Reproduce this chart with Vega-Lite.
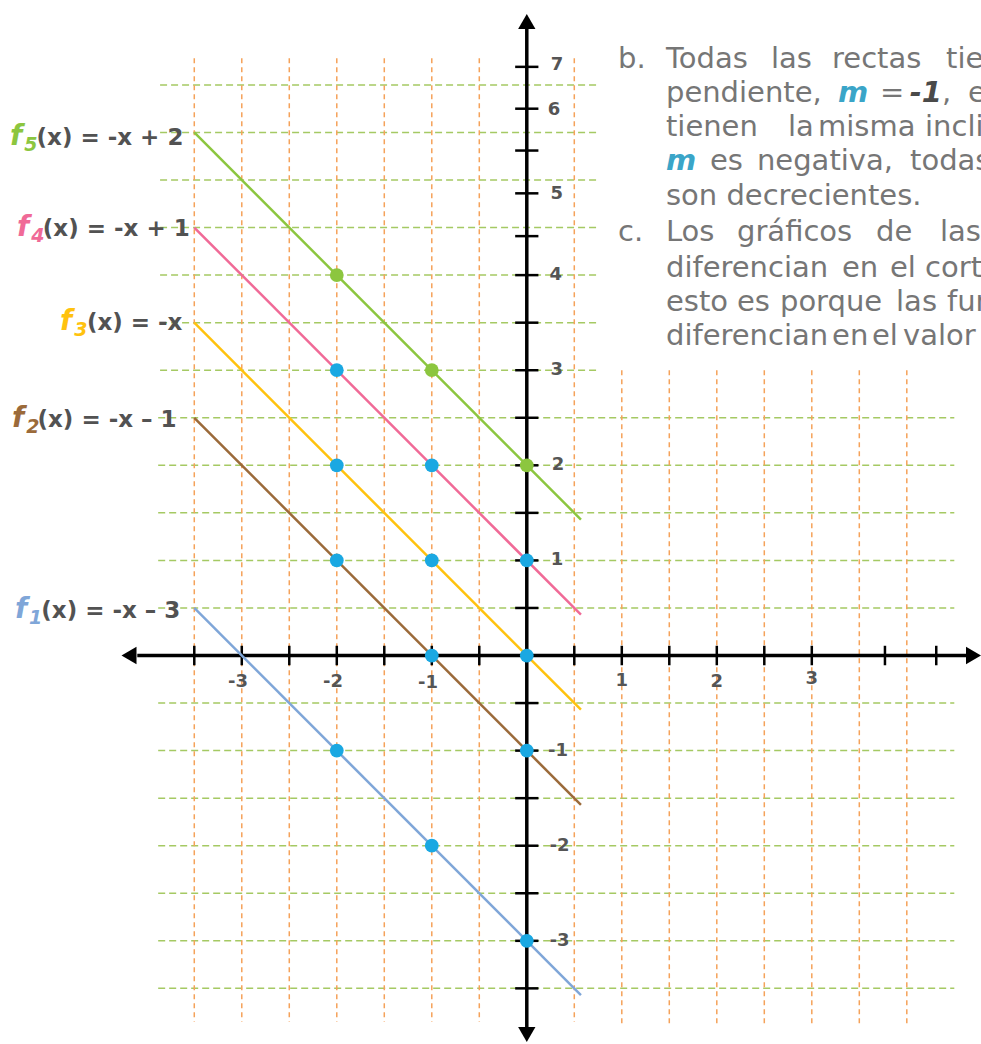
{
  "$schema": "https://vega.github.io/schema/vega-lite/v6.json",
  "width": 981,
  "height": 1044,
  "autosize": {"type": "none"},
  "padding": 0,
  "background": "white",
  "config": {"view": {"stroke": null}},
  "datasets": {
    "hg": [
      {"y": 6, "x": -3.86, "x2": 0.75}, {"y": 5.5, "x": -3.86, "x2": 0.75}, {"y": 5, "x": -3.86, "x2": 0.75},
      {"y": 4.5, "x": -3.86, "x2": 0.75}, {"y": 4, "x": -3.86, "x2": 0.75}, {"y": 3.5, "x": -3.86, "x2": 0.75},
      {"y": 3, "x": -3.86, "x2": 0.75},
      {"y": 2.5, "x": -3.88, "x2": 4.5}, {"y": 2, "x": -3.88, "x2": 4.5}, {"y": 1.5, "x": -3.88, "x2": 4.5},
      {"y": 1, "x": -3.88, "x2": 4.5}, {"y": 0.5, "x": -3.88, "x2": 4.5}, {"y": 0, "x": -3.88, "x2": 4.5},
      {"y": -0.5, "x": -3.88, "x2": 4.5}, {"y": -1, "x": -3.88, "x2": 4.5}, {"y": -1.5, "x": -3.88, "x2": 4.5},
      {"y": -2, "x": -3.88, "x2": 4.5}, {"y": -2.5, "x": -3.88, "x2": 4.5}, {"y": -3, "x": -3.88, "x2": 4.5},
      {"y": -3.5, "x": -3.88, "x2": 4.5}
    ],
    "vg": [
      {"x": -3.5, "y": 6.28, "y2": -3.85}, {"x": -3, "y": 6.28, "y2": -3.85}, {"x": -2.5, "y": 6.28, "y2": -3.85},
      {"x": -2, "y": 6.28, "y2": -3.85}, {"x": -1.5, "y": 6.28, "y2": -3.85}, {"x": -1, "y": 6.28, "y2": -3.85},
      {"x": -0.5, "y": 6.28, "y2": -3.85}, {"x": 0.5, "y": 6.28, "y2": -3.85},
      {"x": 1, "y": 3.0, "y2": -3.87}, {"x": 1.5, "y": 3.0, "y2": -3.87}, {"x": 2, "y": 3.0, "y2": -3.87},
      {"x": 2.5, "y": 3.0, "y2": -3.87}, {"x": 3, "y": 3.0, "y2": -3.87}, {"x": 3.5, "y": 3.0, "y2": -3.87},
      {"x": 4, "y": 3.0, "y2": -3.87}
    ],
    "ejes": [
      {"x": -4.1, "x2": 4.7, "y": 0, "y2": 0},
      {"x": 0, "x2": 0, "y": 6.6, "y2": -3.95}
    ],
    "flechas": [
      {"x": -4.187, "y": 0, "dir": "izquierda"},
      {"x": 4.702, "y": 0, "dir": "derecha"},
      {"x": 0, "y": 6.667, "dir": "arriba"},
      {"x": 0, "y": -3.985, "dir": "abajo"}
    ],
    "tx": [
      {"x": -3.5, "y": 0}, {"x": -3, "y": 0}, {"x": -2.5, "y": 0}, {"x": -2, "y": 0}, {"x": -1.5, "y": 0},
      {"x": -1, "y": 0}, {"x": -0.5, "y": 0}, {"x": 0.5, "y": 0}, {"x": 1, "y": 0}, {"x": 1.5, "y": 0},
      {"x": 2, "y": 0}, {"x": 2.5, "y": 0}, {"x": 3, "y": 0}, {"x": 3.77, "y": 0}, {"x": 4.31, "y": 0}
    ],
    "ty": [
      {"x": 0, "y": 6.19}, {"x": 0, "y": 5.75}, {"x": 0, "y": 5.31}, {"x": 0, "y": 4.86}, {"x": 0, "y": 4.41},
      {"x": 0, "y": 4.0}, {"x": 0, "y": 3.5}, {"x": 0, "y": 3}, {"x": 0, "y": 2.5}, {"x": 0, "y": 2},
      {"x": 0, "y": 1.5}, {"x": 0, "y": 1}, {"x": 0, "y": 0.5}, {"x": 0, "y": -0.5}, {"x": 0, "y": -1},
      {"x": 0, "y": -1.5}, {"x": 0, "y": -2}, {"x": 0, "y": -2.5}, {"x": 0, "y": -3}, {"x": 0, "y": -3.5}
    ],
    "rectas": [
      {"fn": "f5", "x": -3.5, "y": 5.5}, {"fn": "f5", "x": 0.57, "y": 1.43},
      {"fn": "f4", "x": -3.5, "y": 4.5}, {"fn": "f4", "x": 0.57, "y": 0.43},
      {"fn": "f3", "x": -3.5, "y": 3.5}, {"fn": "f3", "x": 0.57, "y": -0.57},
      {"fn": "f2", "x": -3.5, "y": 2.5}, {"fn": "f2", "x": 0.57, "y": -1.57},
      {"fn": "f1", "x": -3.5, "y": 0.5}, {"fn": "f1", "x": 0.57, "y": -3.57}
    ],
    "puntos": [
      {"fn": "f5", "x": -2, "y": 4}, {"fn": "f5", "x": -1, "y": 3}, {"fn": "f5", "x": 0, "y": 2},
      {"fn": "f4", "x": -2, "y": 3}, {"fn": "f4", "x": -1, "y": 2}, {"fn": "f4", "x": 0, "y": 1},
      {"fn": "f3", "x": -2, "y": 2}, {"fn": "f3", "x": -1, "y": 1}, {"fn": "f3", "x": 0, "y": 0},
      {"fn": "f2", "x": -2, "y": 1}, {"fn": "f2", "x": -1, "y": 0}, {"fn": "f2", "x": 0, "y": -1},
      {"fn": "f1", "x": -2, "y": -1}, {"fn": "f1", "x": -1, "y": -2}, {"fn": "f1", "x": 0, "y": -3}
    ],
    "etx": [
      {"t": "-3", "x": -3.04, "y": -0.279}, {"t": "-2", "x": -2.04, "y": -0.279}, {"t": "-1", "x": -1.04, "y": -0.285},
      {"t": "1", "x": 1.0, "y": -0.273}, {"t": "2", "x": 2.0, "y": -0.278}, {"t": "3", "x": 3.0, "y": -0.252}
    ],
    "ety": [
      {"t": "7", "x": 0.318, "y": 6.209}, {"t": "6", "x": 0.286, "y": 5.741}, {"t": "5", "x": 0.315, "y": 4.85},
      {"t": "4", "x": 0.305, "y": 4.0}, {"t": "3", "x": 0.316, "y": 3}, {"t": "2", "x": 0.328, "y": 2},
      {"t": "1", "x": 0.318, "y": 1}, {"t": "-1", "x": 0.328, "y": -1}, {"t": "-2", "x": 0.344, "y": -2},
      {"t": "-3", "x": 0.344, "y": -3}
    ],
    "nombres": [
      {"fn": "f5", "parte": "f", "t": "f", "x": -5.44, "y": 5.368},
      {"fn": "f5", "parte": "sub", "t": "5", "x": -5.29, "y": 5.305},
      {"fn": "f5", "parte": "resto", "t": "(x) = -x + 2", "x": -5.16, "y": 5.368},
      {"fn": "f4", "parte": "f", "t": "f", "x": -5.366, "y": 4.411},
      {"fn": "f4", "parte": "sub", "t": "4", "x": -5.216, "y": 4.348},
      {"fn": "f4", "parte": "resto", "t": "(x) = -x + 1", "x": -5.094, "y": 4.411},
      {"fn": "f3", "parte": "f", "t": "f", "x": -4.914, "y": 3.423},
      {"fn": "f3", "parte": "sub", "t": "3", "x": -4.764, "y": 3.36},
      {"fn": "f3", "parte": "resto", "t": "(x) = -x", "x": -4.63, "y": 3.423},
      {"fn": "f2", "parte": "f", "t": "f", "x": -5.419, "y": 2.403},
      {"fn": "f2", "parte": "sub", "t": "2", "x": -5.27, "y": 2.34},
      {"fn": "f2", "parte": "resto", "t": "(x) = -x – 1", "x": -5.15, "y": 2.403},
      {"fn": "f1", "parte": "f", "t": "f", "x": -5.387, "y": 0.394},
      {"fn": "f1", "parte": "sub", "t": "1", "x": -5.24, "y": 0.331},
      {"fn": "f1", "parte": "resto", "t": "(x) = -x – 3", "x": -5.11, "y": 0.394}
    ],
    "texto": [
      {"t": "b.", "x": 0.96, "y": 6.178, "k": "normal"},
      {"t": "Todas", "x": 1.465, "y": 6.178, "k": "normal"},
      {"t": "las", "x": 2.571, "y": 6.178, "k": "normal"},
      {"t": "rectas", "x": 3.213, "y": 6.178, "k": "normal"},
      {"t": "tienen", "x": 4.413, "y": 6.178, "k": "normal"},
      {"t": "pendiente,", "x": 1.465, "y": 5.82, "k": "normal"},
      {"t": "m", "x": 3.276, "y": 5.82, "k": "m"},
      {"t": "=", "x": 3.718, "y": 5.82, "k": "normal"},
      {"t": "-1", "x": 4.03, "y": 5.82, "k": "neg"},
      {"t": ",", "x": 4.37, "y": 5.82, "k": "normal"},
      {"t": "es", "x": 4.644, "y": 5.82, "k": "normal"},
      {"t": "tienen", "x": 1.465, "y": 5.463, "k": "normal"},
      {"t": "la", "x": 2.749, "y": 5.463, "k": "normal"},
      {"t": "misma", "x": 3.065, "y": 5.463, "k": "normal"},
      {"t": "inclinación,", "x": 4.192, "y": 5.463, "k": "normal"},
      {"t": "m", "x": 1.465, "y": 5.105, "k": "m"},
      {"t": "es", "x": 1.928, "y": 5.105, "k": "normal"},
      {"t": "negativa,", "x": 2.423, "y": 5.105, "k": "normal"},
      {"t": "todas", "x": 4.034, "y": 5.105, "k": "normal"},
      {"t": "son decrecientes.", "x": 1.465, "y": 4.737, "k": "normal"},
      {"t": "c.", "x": 0.96, "y": 4.359, "k": "normal"},
      {"t": "Los", "x": 1.465, "y": 4.359, "k": "normal"},
      {"t": "gráficos", "x": 2.213, "y": 4.359, "k": "normal"},
      {"t": "de", "x": 3.676, "y": 4.359, "k": "normal"},
      {"t": "las", "x": 4.349, "y": 4.359, "k": "normal"},
      {"t": "diferencian", "x": 1.465, "y": 3.98, "k": "normal"},
      {"t": "en", "x": 3.318, "y": 3.98, "k": "normal"},
      {"t": "el", "x": 3.823, "y": 3.98, "k": "normal"},
      {"t": "corte", "x": 4.192, "y": 3.98, "k": "normal"},
      {"t": "esto", "x": 1.465, "y": 3.622, "k": "normal"},
      {"t": "es", "x": 2.213, "y": 3.622, "k": "normal"},
      {"t": "porque", "x": 2.665, "y": 3.622, "k": "normal"},
      {"t": "las", "x": 3.887, "y": 3.622, "k": "normal"},
      {"t": "funciones", "x": 4.423, "y": 3.622, "k": "normal"},
      {"t": "diferencian", "x": 1.465, "y": 3.265, "k": "normal"},
      {"t": "en", "x": 3.213, "y": 3.265, "k": "normal"},
      {"t": "el", "x": 3.634, "y": 3.265, "k": "normal"},
      {"t": "valor", "x": 3.96, "y": 3.265, "k": "normal"}
    ]
  },
  "encoding": {
    "x": {"field": "x", "type": "quantitative", "scale": {"domain": [-5.545, 4.781], "nice": false, "zero": false}, "axis": null},
    "y": {"field": "y", "type": "quantitative", "scale": {"domain": [-4.085, 6.893], "nice": false, "zero": false}, "axis": null}
  },
  "layer": [
    {
      "data": {"name": "hg"},
      "mark": {"type": "rule", "color": "#a5c963", "strokeWidth": 1.5, "strokeDash": [7, 4]},
      "encoding": {"x2": {"field": "x2"}}
    },
    {
      "data": {"name": "vg"},
      "mark": {"type": "rule", "color": "#f5a25a", "strokeWidth": 1.5, "strokeDash": [5, 4]},
      "encoding": {"y2": {"field": "y2"}}
    },
    {
      "data": {"name": "ejes"},
      "mark": {"type": "rule", "color": "black", "strokeWidth": 3.5},
      "encoding": {"x2": {"field": "x2"}, "y2": {"field": "y2"}}
    },
    {
      "data": {"name": "tx"},
      "mark": {"type": "point", "shape": "stroke", "filled": false, "color": "black", "strokeWidth": 2.5, "size": 380, "angle": 90, "opacity": 1}
    },
    {
      "data": {"name": "ty"},
      "mark": {"type": "point", "shape": "stroke", "filled": false, "color": "black", "strokeWidth": 2.5, "size": 540, "angle": 0, "opacity": 1}
    },
    {
      "data": {"name": "flechas"},
      "mark": {"type": "point", "filled": true, "color": "black", "size": 300, "opacity": 1},
      "encoding": {
        "shape": {"field": "dir", "type": "nominal", "legend": null,
          "scale": {"domain": ["izquierda", "derecha", "arriba", "abajo"], "range": ["triangle-left", "triangle-right", "triangle-up", "triangle-down"]}}
      }
    },
    {
      "data": {"name": "rectas"},
      "mark": {"type": "line", "strokeWidth": 2.5},
      "encoding": {
        "color": {"field": "fn", "type": "nominal", "legend": null,
          "scale": {"domain": ["f1", "f2", "f3", "f4", "f5"], "range": ["#7fa6d8", "#9b6a3a", "#ffc20e", "#f06a97", "#8cc63f"]}},
        "detail": {"field": "fn"}
      }
    },
    {
      "data": {"name": "puntos"},
      "mark": {"type": "circle", "size": 190, "opacity": 1},
      "encoding": {
        "color": {"condition": {"test": "datum.fn === 'f5'", "value": "#8cc63f"}, "value": "#1aa8e2"}
      }
    },
    {
      "data": {"name": "etx"},
      "mark": {"type": "text", "font": "DejaVu Sans", "fontWeight": "bold", "fontSize": 18, "color": "#555555", "align": "center", "baseline": "middle"},
      "encoding": {"text": {"field": "t"}}
    },
    {
      "data": {"name": "ety"},
      "mark": {"type": "text", "font": "DejaVu Sans", "fontWeight": "bold", "fontSize": 18, "color": "#555555", "align": "center", "baseline": "middle"},
      "encoding": {"text": {"field": "t"}}
    },
    {
      "data": {"name": "nombres"},
      "transform": [{"filter": "datum.parte === 'f'"}],
      "mark": {"type": "text", "font": "DejaVu Sans", "fontWeight": "bold", "fontStyle": "italic", "fontSize": 28, "align": "left", "baseline": "alphabetic"},
      "encoding": {"text": {"field": "t"}, "color": {"field": "fn", "type": "nominal", "legend": null}}
    },
    {
      "data": {"name": "nombres"},
      "transform": [{"filter": "datum.parte === 'sub'"}],
      "mark": {"type": "text", "font": "DejaVu Sans", "fontWeight": "bold", "fontStyle": "italic", "fontSize": 19, "align": "left", "baseline": "alphabetic"},
      "encoding": {"text": {"field": "t"}, "color": {"field": "fn", "type": "nominal", "legend": null}}
    },
    {
      "data": {"name": "nombres"},
      "transform": [{"filter": "datum.parte === 'resto'"}],
      "mark": {"type": "text", "font": "DejaVu Sans", "fontWeight": "bold", "fontSize": 23, "color": "#525252", "align": "left", "baseline": "alphabetic"},
      "encoding": {"text": {"field": "t"}}
    },
    {
      "data": {"name": "texto"},
      "transform": [{"filter": "datum.k === 'normal'"}],
      "mark": {"type": "text", "font": "DejaVu Sans", "fontWeight": "normal", "fontSize": 29, "color": "#767676", "align": "left", "baseline": "alphabetic", "clip": true},
      "encoding": {"text": {"field": "t"}}
    },
    {
      "data": {"name": "texto"},
      "transform": [{"filter": "datum.k === 'm'"}],
      "mark": {"type": "text", "font": "DejaVu Sans", "fontWeight": "bold", "fontStyle": "italic", "fontSize": 29, "color": "#3aa5c8", "align": "left", "baseline": "alphabetic", "clip": true},
      "encoding": {"text": {"field": "t"}}
    },
    {
      "data": {"name": "texto"},
      "transform": [{"filter": "datum.k === 'neg'"}],
      "mark": {"type": "text", "font": "DejaVu Sans", "fontWeight": "bold", "fontStyle": "italic", "fontSize": 29, "color": "#4a4a4a", "align": "left", "baseline": "alphabetic", "clip": true},
      "encoding": {"text": {"field": "t"}}
    }
  ]
}
